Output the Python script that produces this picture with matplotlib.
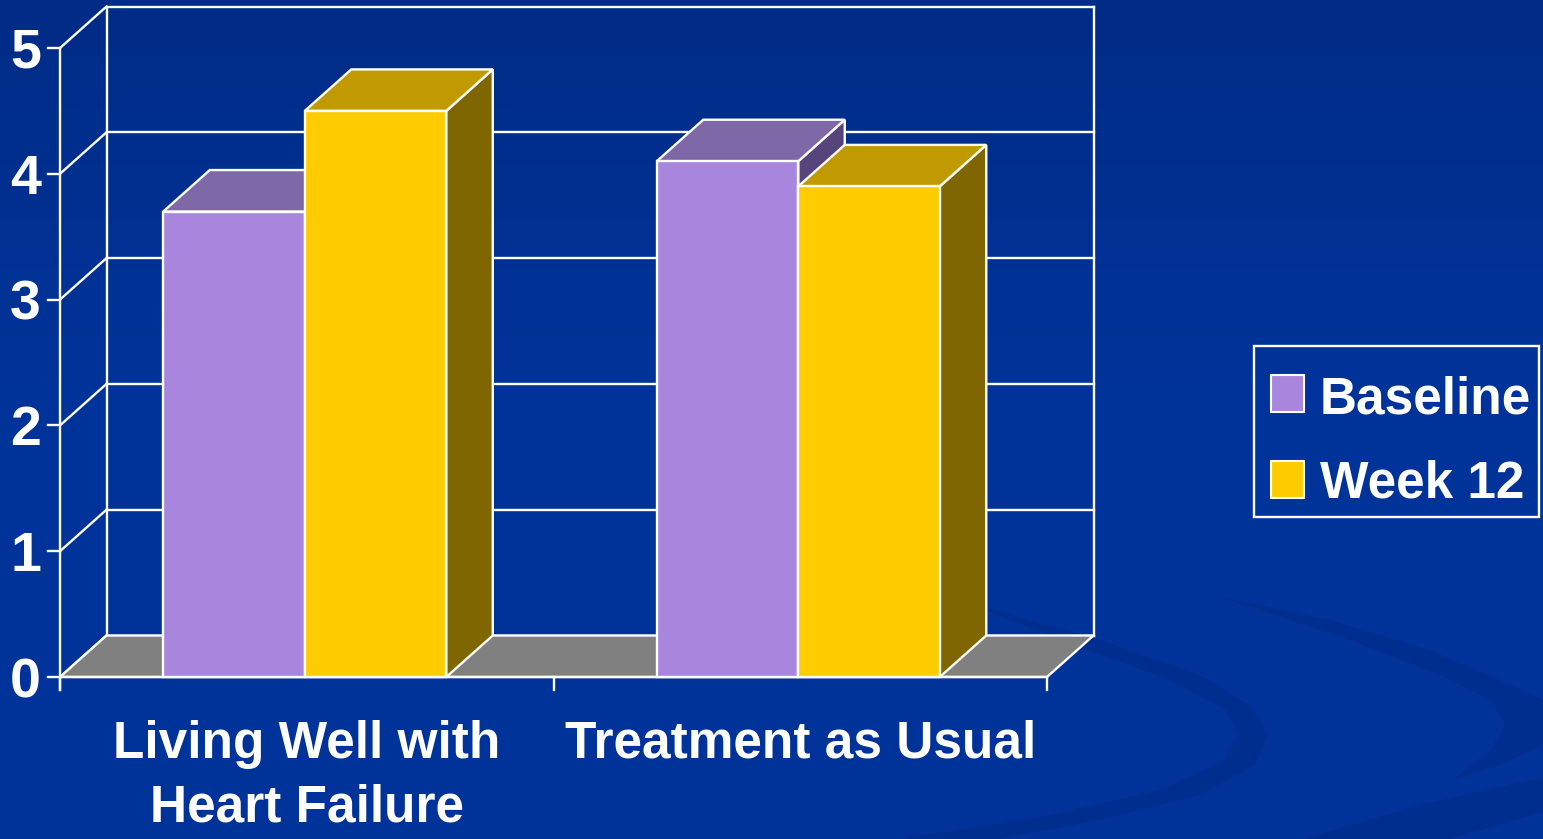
import numpy as np
import matplotlib
matplotlib.use("Agg")
import matplotlib.pyplot as plt
from matplotlib.patches import Polygon, Rectangle

# ---------------- data ----------------
categories = ["Living Well with\nHeart Failure", "Treatment as Usual"]
series_names = ["Baseline", "Week 12"]
baseline = [3.7, 4.1]
week12 = [4.5, 3.9]
y_ticks = [0, 1, 2, 3, 4, 5]

# ---------------- styles ----------------
FRONT = ["#A886DE", "#FFCC00"]
TOP = ["#7F68A8", "#C09A00"]
SIDE = ["#56457A", "#806600"]
FLOOR = "#808080"
BG = "#003399"
WHITE = "white"
FONT = "Liberation Sans"

W, H = 1543, 839
fig = plt.figure(figsize=(W / 100, H / 100), dpi=100)

# ---------- background (pixel space) ----------
bg = fig.add_axes([0, 0, 1, 1], zorder=0)
bg.set_xlim(0, W)
bg.set_ylim(H, 0)
bg.axis("off")
top_c = np.array([0, 44, 135]) / 255
bot_c = np.array([0, 51, 153]) / 255
t = np.clip(np.linspace(0, 1, 200) / 0.45, 0, 1)[:, None]
grad = (top_c[None, :] * (1 - t) + bot_c[None, :] * t)[:, None, :]
grad = np.repeat(grad, 2, axis=1)
bg.imshow(grad, extent=[0, W, H, 0], aspect="auto", zorder=0)

dark = "#002E8E"
swoosh_a = [(960, 600), (1100, 640), (1200, 675), (1250, 705), (1268, 735),
            (1255, 765), (1200, 795), (1100, 820), (1000, 839), (900, 839),
            (1050, 815), (1160, 790), (1225, 760), (1238, 735), (1225, 710),
            (1170, 680), (1060, 640)]
swoosh_b = [(1220, 597), (1330, 620), (1430, 650), (1500, 680), (1543, 700),
            (1543, 745), (1500, 765), (1453, 780), (1490, 750), (1505, 725),
            (1490, 700), (1440, 675), (1350, 640)]
swoosh_c = [(1303, 839), (1420, 805), (1543, 777), (1543, 812), (1450, 839)]
for poly in (swoosh_a, swoosh_b, swoosh_c):
    bg.add_patch(Polygon(poly, closed=True, facecolor=dark, edgecolor="none", zorder=1))

# ---------- chart axes (data space mapped onto the slide) ----------
ppx = (1047 - 60) / 2.0      # pixels per category
ppy = (677 - 48) / 5.0       # pixels per value unit
ax = fig.add_axes([0, 0, 1, 1], zorder=1)
ax.patch.set_alpha(0)
ax.axis("off")
ax.set_xlim(-0.5 - 60 / ppx, -0.5 + (W - 60) / ppx)
ax.set_ylim(-(H - 677) / ppy, 677 / ppy)

dx = 46.5 / ppx
dy = 41.5 / ppy
x0, x1 = -0.5, len(categories) - 0.5
ymax = y_ticks[-1]
lw = 1.7

# back wall grid
for v in y_ticks:
    ax.plot([x0 + dx, x1 + dx], [v + dy, v + dy], color=WHITE, lw=lw, zorder=2)
    ax.plot([x0, x0 + dx], [v, v + dy], color=WHITE, lw=lw, zorder=2)
ax.plot([x0 + dx, x0 + dx], [dy, ymax + dy], color=WHITE, lw=lw, zorder=2)
ax.plot([x1 + dx, x1 + dx], [dy, ymax + dy], color=WHITE, lw=lw, zorder=2)

# floor
ax.add_patch(Polygon([(x0, 0), (x1, 0), (x1 + dx, dy), (x0 + dx, dy)], closed=True,
                     facecolor=FLOOR, edgecolor=WHITE, lw=lw, zorder=3))

# front axes
ax.plot([x0, x0], [-13 / ppy, ymax], color=WHITE, lw=lw, zorder=3)
ax.plot([x0, x1], [0, 0], color=WHITE, lw=lw, zorder=3)
for v in y_ticks:
    ax.plot([x0 - 12 / ppx, x0], [v, v], color=WHITE, lw=lw, zorder=3)
    ax.text(x0 - 34.5 / ppx, v - 20 / ppy, str(v), color=WHITE, fontsize=40,
            fontweight="bold", family=FONT, ha="center", va="baseline", zorder=5)
for k in range(len(categories) + 1):
    ax.plot([x0 + k, x0 + k], [0, -13 / ppy], color=WHITE, lw=lw, zorder=3)

# bars
bw = 141.5 / ppx
z = 4
for i, cat in enumerate(categories):
    vals = [baseline[i], week12[i]]
    for j, v in enumerate(vals):
        left = i - bw + j * bw - 0.004
        side = Polygon([(left + bw, 0), (left + bw + dx, dy), (left + bw + dx, v + dy), (left + bw, v)],
                       closed=True, facecolor=SIDE[j], edgecolor=WHITE, lw=lw, zorder=z)
        top = Polygon([(left, v), (left + bw, v), (left + bw + dx, v + dy), (left + dx, v + dy)],
                      closed=True, facecolor=TOP[j], edgecolor=WHITE, lw=lw, zorder=z)
        front = Rectangle((left, 0), bw, v, facecolor=FRONT[j], edgecolor=WHITE, lw=lw, zorder=z)
        for p in (side, top, front):
            p.set_joinstyle("miter")
            ax.add_patch(p)
        z += 0.1

# category labels
for i, cat in enumerate(categories):
    for k, line in enumerate(cat.split("\n")):
        ax.text(i, -(758 - 677 + 64 * k) / ppy, line, color=WHITE, fontsize=37,
                fontweight="bold", family=FONT, ha="center", va="baseline", zorder=5)

# ---------- legend (pixel space) ----------
bg.add_patch(Rectangle((1254, 346), 285, 171, facecolor="none", edgecolor=WHITE, lw=lw, zorder=5))
leg_rows = [(375, 413), (461, 497)]
for j, name in enumerate(series_names):
    top_px, base_px = leg_rows[j]
    bg.add_patch(Rectangle((1271, top_px), 33, 37, facecolor=FRONT[j], edgecolor=WHITE,
                           lw=1.5, zorder=5))
    bg.text(1320, base_px, name, color=WHITE, fontsize=37, fontweight="bold", family=FONT,
            ha="left", va="baseline", zorder=5)

fig.savefig("out.png", dpi=100, facecolor=BG)
